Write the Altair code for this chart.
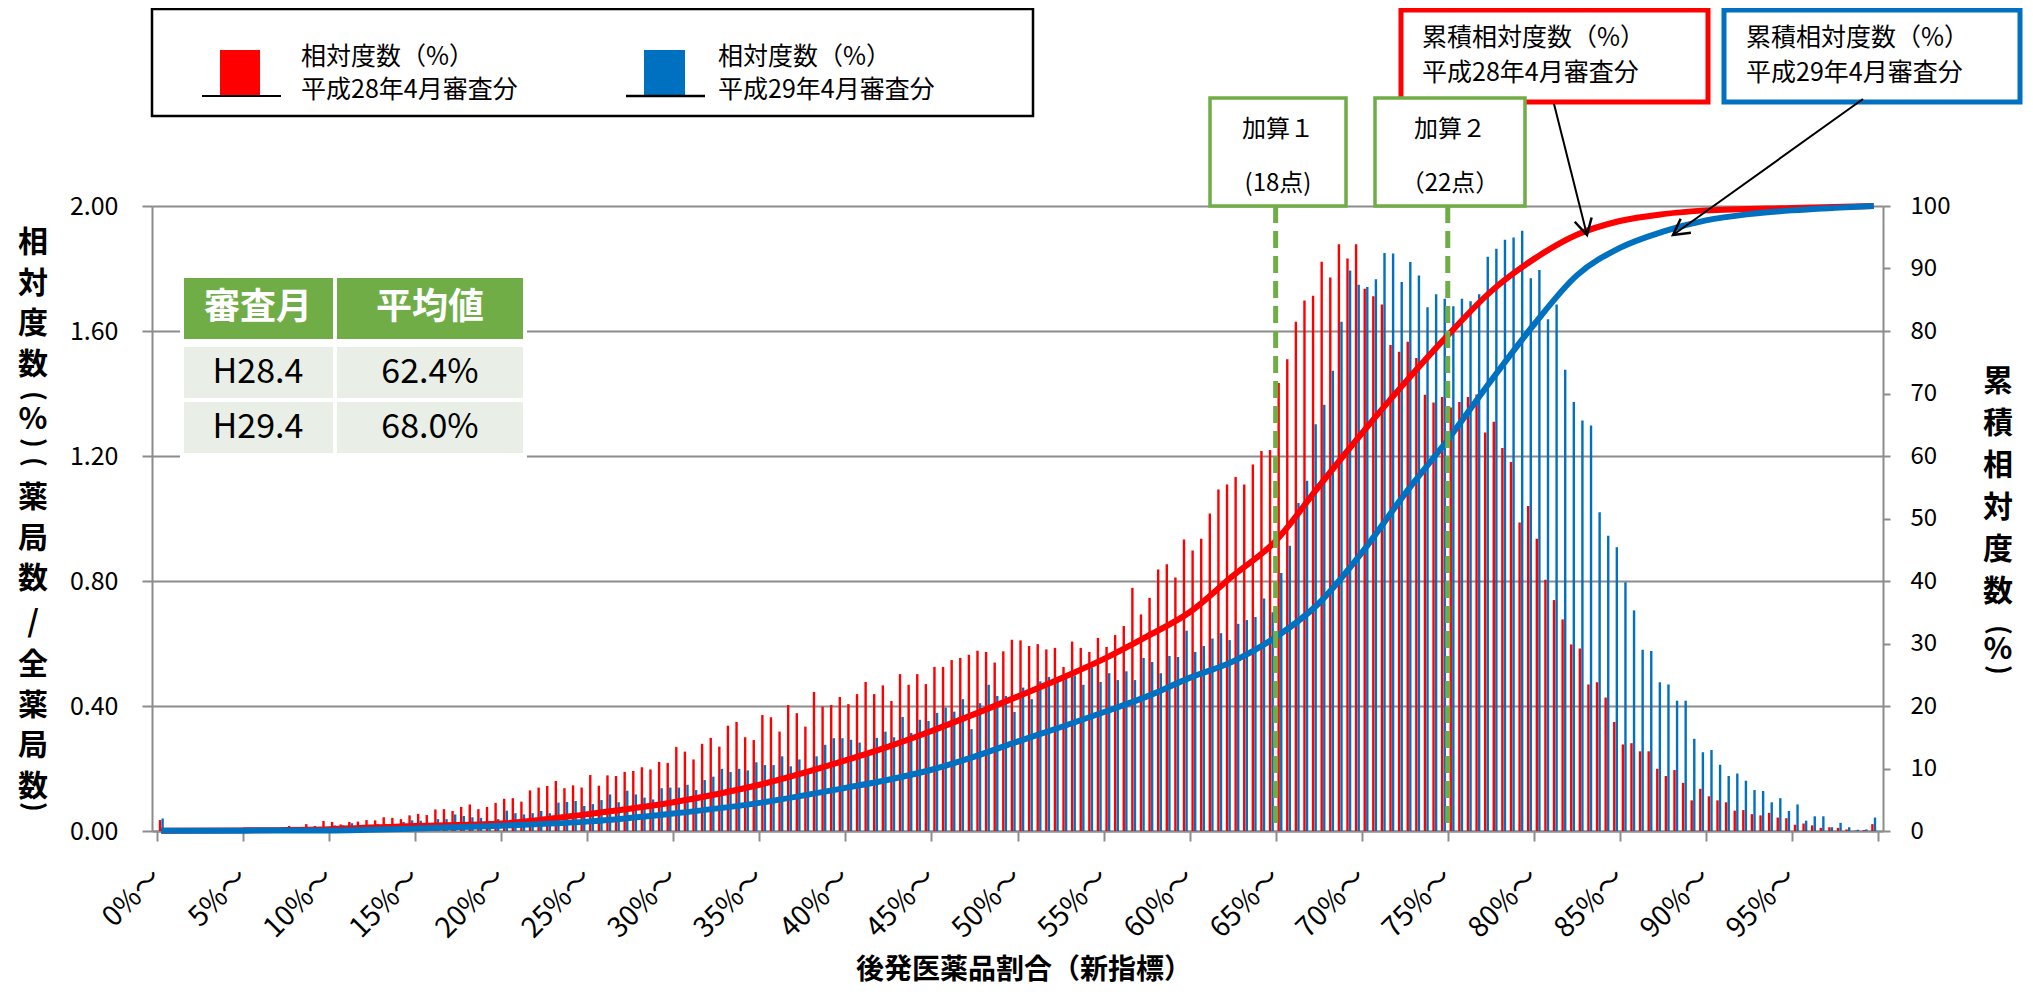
import altair as alt
import pandas as pd

# ---------------- data ----------------
# 0.5%-wide classes: 0%～, 0.5%～, ... 99.5%～
cat_start = [i / 2 for i in range(200)]

red_rel = [
    0.035, 0.001, 0.001, 0.001, 0.002, 0.002, 0.002, 0.003, 0.003, 0.004,
    0.005, 0.006, 0.006, 0.008, 0.010, 0.016, 0.012, 0.022, 0.016, 0.032,
    0.029, 0.021, 0.029, 0.030, 0.035, 0.034, 0.044, 0.042, 0.038, 0.050,
    0.055, 0.051, 0.069, 0.070, 0.064, 0.077, 0.085, 0.070, 0.077, 0.090,
    0.103, 0.105, 0.094, 0.130, 0.139, 0.144, 0.160, 0.137, 0.146, 0.139,
    0.179, 0.145, 0.178, 0.176, 0.189, 0.192, 0.204, 0.197, 0.221, 0.218,
    0.269, 0.254, 0.229, 0.279, 0.298, 0.270, 0.337, 0.349, 0.300, 0.291,
    0.371, 0.364, 0.318, 0.403, 0.377, 0.334, 0.445, 0.398, 0.403, 0.429,
    0.406, 0.438, 0.477, 0.438, 0.466, 0.416, 0.502, 0.468, 0.502, 0.470,
    0.525, 0.525, 0.547, 0.554, 0.564, 0.577, 0.573, 0.539, 0.575, 0.612,
    0.610, 0.592, 0.598, 0.581, 0.586, 0.525, 0.606, 0.586, 0.573, 0.618,
    0.589, 0.627, 0.656, 0.778, 0.693, 0.746, 0.837, 0.854, 0.811, 0.933,
    0.898, 0.935, 1.016, 1.093, 1.109, 1.133, 1.109, 1.173, 1.216, 1.219,
    1.434, 1.510, 1.630, 1.698, 1.713, 1.822, 1.771, 1.878, 1.832, 1.878,
    1.735, 1.711, 1.685, 1.555, 1.534, 1.566, 1.514, 1.396, 1.371, 1.389,
    1.355, 1.373, 1.389, 1.397, 1.275, 1.310, 1.226, 1.181, 0.987, 1.040,
    0.935, 0.804, 0.739, 0.677, 0.597, 0.584, 0.469, 0.476, 0.427, 0.349,
    0.277, 0.281, 0.255, 0.255, 0.199, 0.176, 0.195, 0.154, 0.098, 0.135,
    0.111, 0.098, 0.092, 0.065, 0.067, 0.054, 0.050, 0.058, 0.043, 0.041,
    0.020, 0.024, 0.018, 0.010, 0.012, 0.010, 0.005, 0.001, 0.003, 0.022,
]

blue_rel = [
    0.040, 0.001, 0.001, 0.001, 0.001, 0.001, 0.002, 0.002, 0.002, 0.003,
    0.003, 0.004, 0.004, 0.005, 0.006, 0.008, 0.006, 0.010, 0.008, 0.012,
    0.018, 0.018, 0.025, 0.016, 0.014, 0.022, 0.022, 0.020, 0.029, 0.034,
    0.033, 0.025, 0.038, 0.038, 0.053, 0.048, 0.044, 0.042, 0.032, 0.038,
    0.065, 0.057, 0.053, 0.057, 0.064, 0.057, 0.091, 0.093, 0.096, 0.080,
    0.086, 0.099, 0.117, 0.092, 0.129, 0.117, 0.107, 0.101, 0.137, 0.139,
    0.139, 0.148, 0.131, 0.163, 0.174, 0.199, 0.189, 0.199, 0.194, 0.220,
    0.211, 0.211, 0.239, 0.207, 0.229, 0.185, 0.239, 0.276, 0.297, 0.297,
    0.292, 0.283, 0.249, 0.298, 0.318, 0.300, 0.365, 0.314, 0.356, 0.352,
    0.378, 0.395, 0.382, 0.422, 0.326, 0.409, 0.468, 0.432, 0.432, 0.381,
    0.459, 0.422, 0.479, 0.493, 0.479, 0.498, 0.498, 0.468, 0.523, 0.477,
    0.505, 0.483, 0.511, 0.483, 0.554, 0.541, 0.505, 0.560, 0.557, 0.641,
    0.573, 0.592, 0.616, 0.633, 0.611, 0.663, 0.675, 0.685, 0.744, 0.700,
    0.826, 0.913, 1.050, 1.121, 1.302, 1.364, 1.473, 1.630, 1.794, 1.748,
    1.741, 1.766, 1.850, 1.848, 1.757, 1.821, 1.778, 1.676, 1.718, 1.703,
    1.679, 1.703, 1.695, 1.718, 1.838, 1.863, 1.892, 1.899, 1.921, 1.769,
    1.795, 1.638, 1.685, 1.476, 1.373, 1.314, 1.298, 1.020, 0.945, 0.908,
    0.796, 0.706, 0.580, 0.576, 0.476, 0.469, 0.417, 0.417, 0.295, 0.252,
    0.259, 0.212, 0.176, 0.184, 0.161, 0.131, 0.128, 0.092, 0.105, 0.064,
    0.085, 0.033, 0.047, 0.047, 0.012, 0.026, 0.012, 0.004, 0.005, 0.043,
]

# cumulative relative frequency (%)
cum_x_red = [0.25, 5, 10, 15, 20, 25, 30, 35, 40, 42.5, 45, 47.5, 50, 52.5, 55, 57.5,
             60, 62.5, 65, 67.5, 70, 72.5, 75, 77.5, 80, 82.5, 85, 87.5, 90, 95, 99.75]
cum_red = [0.04, 0.1, 0.3, 0.8, 1.2, 2.7, 4.6, 7.4, 11.3, 13.5, 16.0, 18.7, 21.5, 24.4, 27.5, 31.1,
           35.0, 40.8, 46.4, 55.1, 63.6, 71.7, 79.3, 86.3, 91.5, 95.4, 97.6, 98.7, 99.3, 99.7, 100]
cum_x_blue = [0.25, 5, 10, 15, 20, 25, 30, 35, 40, 42.5, 45, 47.5, 50, 52.5, 55, 57.5,
              60, 62.5, 65, 67.5, 70, 72.5, 75, 77.5, 80, 82.5, 85, 87.5, 90, 92.5, 95, 97.5, 99.75]
cum_blue = [0.04, 0.06, 0.1, 0.4, 0.85, 1.5, 2.8, 4.5, 6.9, 8.2, 9.8, 11.9, 14.3, 16.6, 19.0, 21.5,
            24.5, 27.1, 31.0, 36.4, 44.5, 53.9, 62.6, 72.0, 81.0, 88.9, 93.3, 95.9, 97.7, 98.7, 99.3, 99.7, 100]

x_ticks = [0, 5, 10, 15, 20, 25, 30, 35, 40, 45, 50, 55, 60, 65, 70, 75, 80, 85, 90, 95, 100]
y_left_ticks = [0, 0.4, 0.8, 1.2, 1.6, 2.0]
y_right_ticks = [0, 10, 20, 30, 40, 50, 60, 70, 80, 90, 100]
kasan_x = [65, 75]

series = ["H28", "H29"]
table_months = ["H28.4", "H29.4"]
table_means = ["62.4%", "68.0%"]

# ---------------- style ----------------
RED = "#FF0000"
BLUE = "#0070C0"
GREEN = "#70AD47"
GRID = "#8C8C8C"
FONT = "Noto Sans CJK JP"
W, H = 1731, 625

xscale = alt.Scale(domain=[0, 100], nice=False, zero=False)
cscale = alt.Scale(domain=series, range=[RED, BLUE])
xaxis = alt.Axis(
    values=x_ticks, title="", grid=False,
    labelExpr="datum.value < 100 ? datum.value + '%～' : ''",
    labelAngle=315, labelAlign="right", labelBaseline="middle",
    labelFontSize=28, labelPadding=32, tickSize=10, labelOverlap=False,
    labelBound=False, labelFlush=False)

bars_df = pd.DataFrame({
    "start": cat_start + cat_start,
    "series": ["H28"] * len(red_rel) + ["H29"] * len(blue_rel),
    "value": red_rel + blue_rel,
})
line_df = pd.DataFrame({
    "x": cum_x_red + cum_x_blue,
    "cum": cum_red + cum_blue,
    "series": ["H28"] * len(cum_red) + ["H29"] * len(cum_blue),
})

bars = alt.Chart(bars_df).transform_calculate(
    xc="datum.start + 0.25 + (datum.series == 'H28' ? -0.075 : 0.075)"
).mark_bar(size=2.4).encode(
    x=alt.X("xc:Q", scale=xscale, axis=xaxis),
    y=alt.Y("value:Q", scale=alt.Scale(domain=[0, 2], nice=False), axis=alt.Axis(
        values=y_left_ticks, format=".2f", title="", grid=True,
        labelFontSize=25, labelPadding=24, tickSize=10)),
    color=alt.Color("series:N", scale=cscale, legend=None),
)

lines = alt.Chart(line_df).mark_line(strokeWidth=6, interpolate="monotone").encode(
    x=alt.X("x:Q", scale=xscale, axis=xaxis),
    y=alt.Y("cum:Q", scale=alt.Scale(domain=[0, 100], nice=False), axis=alt.Axis(
        orient="right", values=y_right_ticks, title="", grid=False,
        labelFontSize=24, labelPadding=20, tickSize=7)),
    color=alt.Color("series:N", scale=cscale, legend=None),
)

kasan_df = pd.DataFrame({"x": kasan_x})
kasan_rules = alt.Chart(kasan_df).mark_rule(
    color=GREEN, strokeWidth=5, strokeDash=[17, 8]
).encode(
    x=alt.X("x:Q", scale=xscale, axis=xaxis),
    y=alt.value(0), y2=alt.value(H),
)

dummy = alt.Data(values=[{"a": 1}])


def box(x, y, w, h, fill="white", stroke="transparent", sw=0):
    return alt.Chart(dummy).mark_rect(fill=fill, stroke=stroke, strokeWidth=sw).encode(
        x=alt.value(x), x2=alt.value(x + w), y=alt.value(y), y2=alt.value(y + h))


def txt(x, y, s, size=25, weight="normal", color="#000", align="center", lh=None, angle=None):
    kw = dict(text=s, font=FONT, fontSize=size, fontWeight=weight, color=color,
              align=align, baseline="middle")
    if lh is not None:
        kw["lineHeight"] = lh
    if angle is not None:
        kw["angle"] = angle
    return alt.Chart(dummy).mark_text(**kw).encode(x=alt.value(x), y=alt.value(y))


def seg(x1, y1, x2, y2, color="#000", sw=2):
    return alt.Chart(dummy).mark_rule(color=color, strokeWidth=sw).encode(
        x=alt.value(x1), y=alt.value(y1), x2=alt.value(x2), y2=alt.value(y2))


def head(x, y, ang):
    return alt.Chart(dummy).mark_point(
        shape="M -0.55 -1 L 0 0 L 0.55 -1", filled=False, stroke="#000",
        strokeWidth=2.5, size=1000, angle=ang, opacity=1
    ).encode(x=alt.value(x), y=alt.value(y))


def vparen(x, y, ch):
    # a half-width parenthesis turned upright for vertical writing
    return txt(x, y, ch, 26, "bold", angle=90)


annotations = [
    # legend box
    box(0, -197, 881, 107, fill="white", stroke="#000", sw=2.5),
    box(68, -156, 40, 46, fill=RED, stroke="transparent"),
    seg(50, -110, 129, -110, "#000", 2),
    txt(149, -149, "相対度数（%）", 25, align="left"),
    txt(149, -116, "平成28年4月審査分", 25, align="left"),
    box(492, -156, 41, 46, fill=BLUE, stroke="transparent"),
    seg(474, -110, 553, -110, "#000", 2.5),
    txt(566, -149, "相対度数（%）", 25, align="left"),
    txt(566, -116, "平成29年4月審査分", 25, align="left"),
    # cumulative annotation boxes
    box(1249, -196, 307, 92, fill="white", stroke=RED, sw=5),
    txt(1270, -168, "累積相対度数（%）", 25, align="left"),
    txt(1270, -133, "平成28年4月審査分", 25, align="left"),
    box(1572, -196, 296, 92, fill="white", stroke=BLUE, sw=5),
    txt(1594, -168, "累積相対度数（%）", 25, align="left"),
    txt(1594, -133, "平成29年4月審査分", 25, align="left"),
    seg(1402, -102, 1435, 29, "#000", 2),
    head(1435, 29, 346),
    seg(1711, -107, 1521, 29, "#000", 2),
    head(1521, 29, 54),
    # 加算 boxes
    box(1058, -108, 136, 108, fill="white", stroke=GREEN, sw=3.5),
    txt(1126, -76, "加算１", 24),
    txt(1126, -22, "(18点)", 24),
    box(1223, -108, 150, 108, fill="white", stroke=GREEN, sw=3.5),
    txt(1298, -76, "加算２", 24),
    txt(1298, -22, "（22点）", 24),
    # mean table
    box(28, 68, 347, 184, fill="white"),
    box(32, 72, 149, 61, fill=GREEN),
    box(185, 72, 186, 61, fill=GREEN),
    box(32, 141, 149, 51, fill="#E9EFE6"),
    box(185, 141, 186, 51, fill="#E9EFE6"),
    box(32, 196, 149, 51, fill="#E9EFE6"),
    box(185, 196, 186, 51, fill="#E9EFE6"),
    txt(106, 102, "審査月", 36, "bold", "white"),
    txt(278, 102, "平均値", 36, "bold", "white"),
    txt(106, 167, table_months[0], 34),
    txt(278, 167, table_means[0], 34),
    txt(106, 222, table_months[1], 34),
    txt(278, 222, table_means[1], 34),
    # left axis title, stacked vertically
    txt(-119, 37, list("相対度数"), 30, "bold", lh=40.5),
    vparen(-119, 190, "("),
    txt(-119, 214, "%", 30, "bold"),
    vparen(-119, 237, ")"),
    vparen(-119, 256, "("),
    txt(-119, 292, list("薬局数"), 30, "bold", lh=40.5),
    txt(-119, 417, "/", 30, "bold"),
    txt(-119, 459, list("全薬局数"), 30, "bold", lh=40.5),
    vparen(-119, 601, ")"),
    # right axis title, stacked vertically
    txt(1846, 176, list("累積相対度数"), 30, "bold", lh=42),
    vparen(1846, 424, "("),
    txt(1846, 444, "%", 30, "bold"),
    vparen(1846, 464, ")"),
    # x title
    txt(872, 765, "後発医薬品割合（新指標）", 28, "bold"),
]

chart = alt.layer(
    bars, lines, kasan_rules, *annotations
).resolve_scale(
    y="independent"
).properties(
    width=W, height=H,
    autosize=alt.AutoSizeParams(type="none"),
    padding={"left": 144, "top": 198, "right": 142, "bottom": 156},
    background="white",
).configure_axis(
    domainColor=GRID, domainWidth=2, tickColor=GRID, tickWidth=2,
    gridColor=GRID, gridWidth=2, labelFont=FONT, labelColor="#000",
).configure_view(stroke="transparent")

chart.save("out.html", embed_options={"renderer": "svg", "actions": False})
